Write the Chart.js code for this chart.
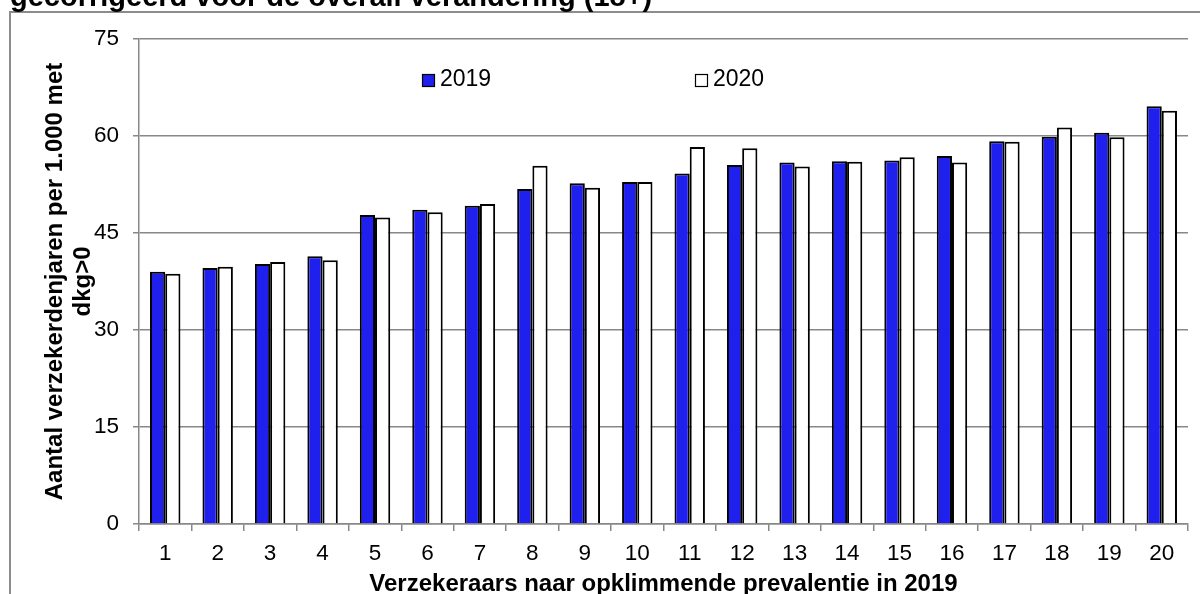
<!DOCTYPE html>
<html>
<head>
<meta charset="utf-8">
<script src="https://cdn.jsdelivr.net/npm/chart.js@4.4.1/dist/chart.umd.min.js"></script>
<style>
  html, body { margin: 0; padding: 0; background: #fff; overflow: hidden; }
  #wrap { position: relative; width: 1200px; height: 594px; }
</style>
</head>
<body>
<div id="wrap"><canvas id="c" width="1200" height="594"></canvas></div>
<script>
// Insurers, ranked by 2019 prevalence
const categories = ['1','2','3','4','5','6','7','8','9','10','11','12','13','14','15','16','17','18','19','20'];
const values2019 = [39.0, 39.6, 40.2, 41.4, 47.8, 48.6, 49.2, 51.8, 52.7, 52.9, 54.2, 55.5, 55.9, 56.1, 56.2, 56.9, 59.2, 59.9, 60.5, 64.6];
const values2020 = [38.7, 39.8, 40.5, 40.8, 47.4, 48.2, 49.5, 55.4, 52.0, 52.9, 58.3, 58.1, 55.3, 56.0, 56.7, 55.9, 59.1, 61.3, 59.8, 63.9];
const seriesNames = ['2019', '2020'];
const yTicks = [0, 15, 30, 45, 60, 75];
const chartTitle = 'gecorrigeerd voor de overall verandering (18+)';
const yTitle = ['Aantal verzekerdenjaren per 1.000 met', 'dkg>0'];
const xTitle = 'Verzekeraars naar opklimmende prevalentie in 2019';

const FONT = "'Liberation Sans', Arial, Helvetica, sans-serif";
const GRID = '#888888';

// Frame, clipped title and legend drawn on top of the chart
const decorations = {
  id: 'decorations',
  afterDraw(chart) {
    const ctx = chart.ctx;
    ctx.save();
    // outer frame (top and left edges)
    ctx.strokeStyle = '#8c8c8c';
    ctx.lineWidth = 2;
    ctx.beginPath();
    ctx.moveTo(1200, 12);
    ctx.lineTo(10, 12);
    ctx.lineTo(10, 594);
    ctx.stroke();

    // title (only its lower part is visible at the top edge)
    ctx.fillStyle = '#000';
    ctx.font = "bold 29px " + FONT;
    ctx.textAlign = 'left';
    ctx.textBaseline = 'alphabetic';
    ctx.fillText(chartTitle, 10, 6);

    // legend
    const legendX = [422, 695];
    const legendY = 80;
    ctx.font = "23px " + FONT;
    ctx.textBaseline = 'middle';
    chart.data.datasets.forEach((ds, i) => {
      const x = legendX[i];
      ctx.fillStyle = ds.backgroundColor;
      ctx.fillRect(x, legendY - 6, 12, 12);
      ctx.strokeStyle = '#000';
      ctx.lineWidth = 1.2;
      ctx.strokeRect(x + 0.5, legendY - 5.5, 12, 12);
      ctx.fillStyle = '#000';
      ctx.fillText(ds.label, x + 18, legendY);
    });
    ctx.restore();
  }
};

new Chart(document.getElementById('c'), {
  type: 'bar',
  data: {
    labels: categories,
    datasets: [
      {
        label: seriesNames[0],
        data: values2019,
        backgroundColor: '#1f1fee',
        borderColor: '#000000',
        borderWidth: 2,
        borderSkipped: 'start',
        categoryPercentage: 0.58,
        barPercentage: 1.0
      },
      {
        label: seriesNames[1],
        data: values2020,
        backgroundColor: '#ffffff',
        borderColor: '#000000',
        borderWidth: 2,
        borderSkipped: 'start',
        categoryPercentage: 0.58,
        barPercentage: 1.0
      }
    ]
  },
  options: {
    responsive: false,
    animation: false,
    devicePixelRatio: 1,
    layout: { padding: { left: 0, right: 12, top: 39, bottom: 0 } },
    plugins: {
      legend: { display: false },
      tooltip: { enabled: false },
      title: { display: false }
    },
    scales: {
      x: {
        grid: { display: true, drawOnChartArea: false, drawTicks: true, tickLength: 7, color: GRID, lineWidth: 1.5, offset: true },
        border: { display: true, color: GRID, width: 1.5 },
        ticks: { font: { family: FONT, size: 22.5 }, color: '#000', padding: 9, maxRotation: 0, autoSkip: false },
        title: {
          display: true, text: xTitle, color: '#000',
          font: { family: FONT, size: 24, weight: 'bold', lineHeight: 1 },
          padding: { top: 0, bottom: -2 }
        },
        afterFit(scale) { scale.height = 70; }
      },
      y: {
        min: 0,
        max: 75,
        afterBuildTicks(scale) { scale.ticks = yTicks.map(v => ({ value: v })); },
        grid: { color: GRID, lineWidth: 1.5, drawTicks: true, tickLength: 6 },
        border: { display: true, color: GRID, width: 1.5 },
        ticks: { font: { family: FONT, size: 22.5 }, color: '#000', padding: 14 },
        title: {
          display: true, text: yTitle, color: '#000',
          font: { family: FONT, size: 24, weight: 'bold', lineHeight: 1.17 },
          padding: { top: 41, bottom: 0 }
        },
        afterFit(scale) { scale.width = 139; }
      }
    }
  },
  plugins: [decorations]
});
</script>
</body>
</html>
